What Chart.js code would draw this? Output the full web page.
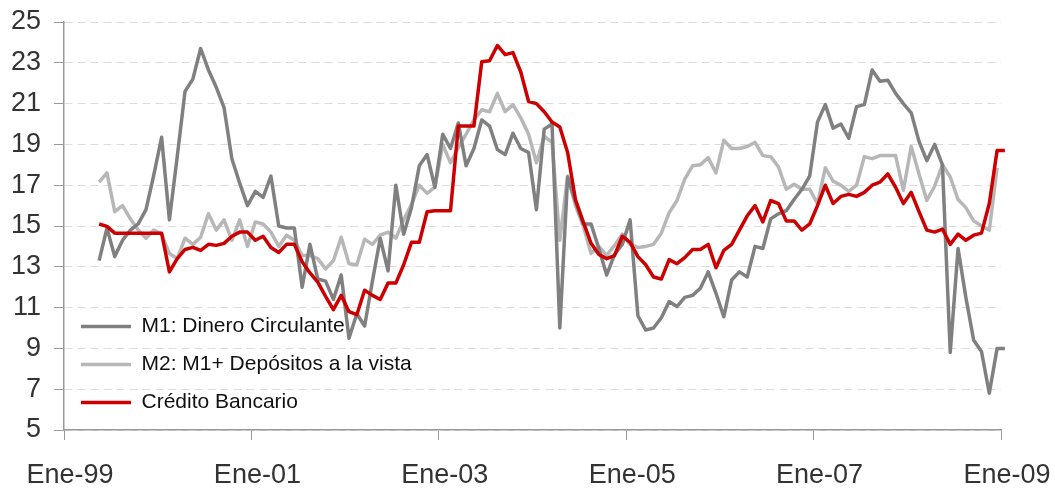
<!DOCTYPE html>
<html>
<head>
<meta charset="utf-8">
<script src="https://cdn.jsdelivr.net/npm/chart.js@4/dist/chart.umd.min.js"></script>
<style>
  html, body { margin: 0; padding: 0; background: #fff; }
  #wrap { width: 1055px; height: 489px; position: relative; }
</style>
</head>
<body>
<div id="wrap"><canvas id="c"></canvas></div>
<script>
// Tick labels of the time axis (one every 24 months from Jan-1999)
const xTickLabels = ['Ene-99', 'Ene-01', 'Ene-03', 'Ene-05', 'Ene-07', 'Ene-09'];
// First observation: May 1999 (months after Jan 1999), monthly data to Jan 2009
const startMonth = 4;
const seriesNames = ['M1: Dinero Circulante', 'M2: M1+ Depósitos a la vista', 'Crédito Bancario'];

const m1 = [
  13.3, 14.9, 13.5, 14.3, 14.8, 15.1, 15.8, 17.5, 19.35, 15.3,
  18.4, 21.6, 22.2, 23.7, 22.65, 21.8, 20.8, 18.3, 17.1, 16.0,
  16.7, 16.4, 17.45, 15.0, 14.9, 14.9, 12.0, 14.1, 12.4, 12.3,
  11.4, 12.6, 9.5, 10.7, 10.1, 12.3, 14.4, 12.8, 17.0, 14.6,
  15.9, 17.95, 18.5, 16.9, 19.5, 18.8, 20.05, 17.95, 18.8, 20.2,
  19.9, 18.75, 18.5, 19.55, 18.8, 18.6, 15.8, 19.75, 20.0, 10.0,
  17.4, 16.2, 15.1, 15.1, 13.9, 12.6, 13.6, 14.1, 15.3, 10.6,
  9.9, 10.0, 10.5, 11.3, 11.05, 11.5, 11.6, 11.95, 12.75, 11.7,
  10.55, 12.35, 12.75, 12.5, 14.0, 13.9, 15.35, 15.6, 15.75, 16.3,
  16.8, 17.45, 20.1, 20.95, 19.8, 20.0, 19.3, 20.85, 20.95, 22.65,
  22.1, 22.15, 21.5, 21.0, 20.55, 19.15, 18.2, 19.0, 18.0, 8.8,
  13.9, 11.5, 9.4, 8.85, 6.8, 9.0, 9.0
];
const m2 = [
  17.15, 17.6, 15.7, 16.0, 15.35, 14.8, 14.4, 14.8, 14.6, 13.65,
  13.4, 14.4, 14.1, 14.45, 15.6, 14.8, 15.3, 14.3, 15.3, 14.0,
  15.2, 15.1, 14.7, 14.0, 14.55, 14.3, 13.55, 13.55, 13.4, 12.9,
  13.3, 14.45, 13.15, 13.1, 14.35, 14.1, 14.55, 14.7, 14.4, 15.3,
  16.05, 17.0, 16.6, 16.9, 19.0, 18.1, 18.85, 19.5, 20.2, 20.7,
  20.6, 21.5, 20.6, 20.95, 20.3, 19.5, 18.1, 19.4, 19.1, 14.3,
  17.45, 16.0, 15.0, 13.65, 14.0, 13.55, 14.05, 14.6, 14.1, 13.95,
  14.0, 14.1, 14.65, 15.65, 16.25, 17.3, 17.95, 18.0, 18.35, 17.6,
  19.2, 18.8, 18.8, 18.9, 19.1, 18.45, 18.4, 17.9, 16.8, 17.05,
  16.8, 16.8, 16.1, 17.85, 17.2, 17.0, 16.7, 17.0, 18.4, 18.3,
  18.45, 18.45, 18.45, 16.75, 18.9, 17.55, 16.25, 16.95, 18.0, 17.4,
  16.3, 15.9, 15.25, 15.0, 14.8, 17.85, null
];
const credito = [
  15.1, 14.98, 14.65, 14.65, 14.65, 14.65, 14.65, 14.65, 14.65, 12.75,
  13.4, 13.85, 13.95, 13.8, 14.1, 14.05, 14.15, 14.5, 14.7, 14.7,
  14.3, 14.5, 13.95, 13.7, 14.1, 14.1, 13.25, 12.7, 12.25, 11.55,
  10.9, 11.6, 10.8, 10.65, 11.85, 11.6, 11.4, 12.2, 12.2, 13.1,
  14.2, 14.2, 15.7, 15.75, 15.75, 15.75, 19.9, 19.9, 19.9, 23.05,
  23.1, 23.85, 23.4, 23.5, 22.55, 21.1, 21.0, 20.6, 20.1, 19.85,
  18.6, 16.3, 15.2, 14.15, 13.6, 13.4, 13.55, 14.5, 14.2, 13.5,
  13.1, 12.5, 12.4, 13.35, 13.15, 13.45, 13.85, 13.85, 14.1, 12.95,
  13.8, 14.1, 14.8, 15.5, 16.0, 15.2, 16.25, 16.1, 15.25, 15.25,
  14.8, 15.1, 16.0, 17.0, 16.1, 16.45, 16.55, 16.45, 16.65, 17.0,
  17.15, 17.55, 16.9, 16.1, 16.65, 15.7, 14.8, 14.7, 14.85, 14.1,
  14.6, 14.3, 14.55, 14.65, 16.1, 18.7, 18.7
];

// monthly observations plotted at mid-month
const toPoints = (arr) => arr.map((v, i) => ({ x: startMonth + i + 0.5, y: v }));

const FONT = "'Liberation Sans', Arial, sans-serif";

const lineDs = (label, data, color, order) => ({
  label, data: toPoints(data),
  borderColor: color, backgroundColor: color,
  borderWidth: 3.5, pointRadius: 0, tension: 0,
  borderJoinStyle: 'round', borderCapStyle: 'butt',
  spanGaps: false, clip: false, order
});

// keep the in-plot legend aligned with the plot area's own box
const legendInPlot = {
  id: 'legendInPlot',
  afterLayout(chart) {
    const l = chart.legend, ca = chart.chartArea;
    if (!l || !ca) return;
    const h = l.bottom - l.top;
    l.bottom = ca.bottom;
    l.top = ca.bottom - h;
  }
};

const noAutoPad = (s) => { s.paddingTop = 0; s.paddingBottom = 0; s.paddingLeft = 0; s.paddingRight = 0; };

new Chart(document.getElementById('c'), {
  type: 'line',
  data: {
    datasets: [
      lineDs(seriesNames[0], m1, '#808080', 1),
      lineDs(seriesNames[1], m2, '#B7B7B7', 2),
      lineDs(seriesNames[2], credito, '#CC0000', 0)
    ]
  },
  plugins: [legendInPlot],
  options: {
    responsive: true,
    maintainAspectRatio: false,
    animation: false,
    devicePixelRatio: 1,
    layout: { padding: { left: 0, right: 54, top: 22, bottom: 0 } },
    plugins: {
      tooltip: { enabled: false },
      legend: {
        position: 'chartArea',
        align: 'end',
        labels: {
          usePointStyle: true,
          pointStyle: 'line',
          pointStyleWidth: 50,
          padding: 17,
          color: '#111',
          font: { family: FONT, size: 21 },
          sort: (a, b) => a.datasetIndex - b.datasetIndex
        }
      }
    },
    scales: {
      x: {
        type: 'linear',
        min: 0, max: 120,
        afterFit: (s) => { s.height = 59; noAutoPad(s); },
        ticks: {
          stepSize: 24,
          autoSkip: false,
          maxRotation: 0,
          labelOffset: 6,
          padding: 19,
          color: '#333',
          font: { family: FONT, size: 27 },
          callback: (v) => xTickLabels[Math.round(v / 24)]
        },
        grid: { drawOnChartArea: false, tickLength: 10, tickColor: '#9a9a9a', lineWidth: 1 },
        border: { display: true, color: '#9a9a9a', width: 1.5 }
      },
      y: {
        min: 5, max: 25,
        afterFit: (s) => { s.width = 64; noAutoPad(s); },
        ticks: {
          stepSize: 2,
          padding: 13,
          color: '#333',
          font: { family: FONT, size: 27 }
        },
        grid: { color: '#dcdcdc', lineWidth: 1, tickLength: 10, tickColor: '#9a9a9a', tickBorderDash: [] },
        border: { display: true, color: '#9a9a9a', width: 1.5, dash: [8, 5] }
      }
    }
  }
});
</script>
</body>
</html>
